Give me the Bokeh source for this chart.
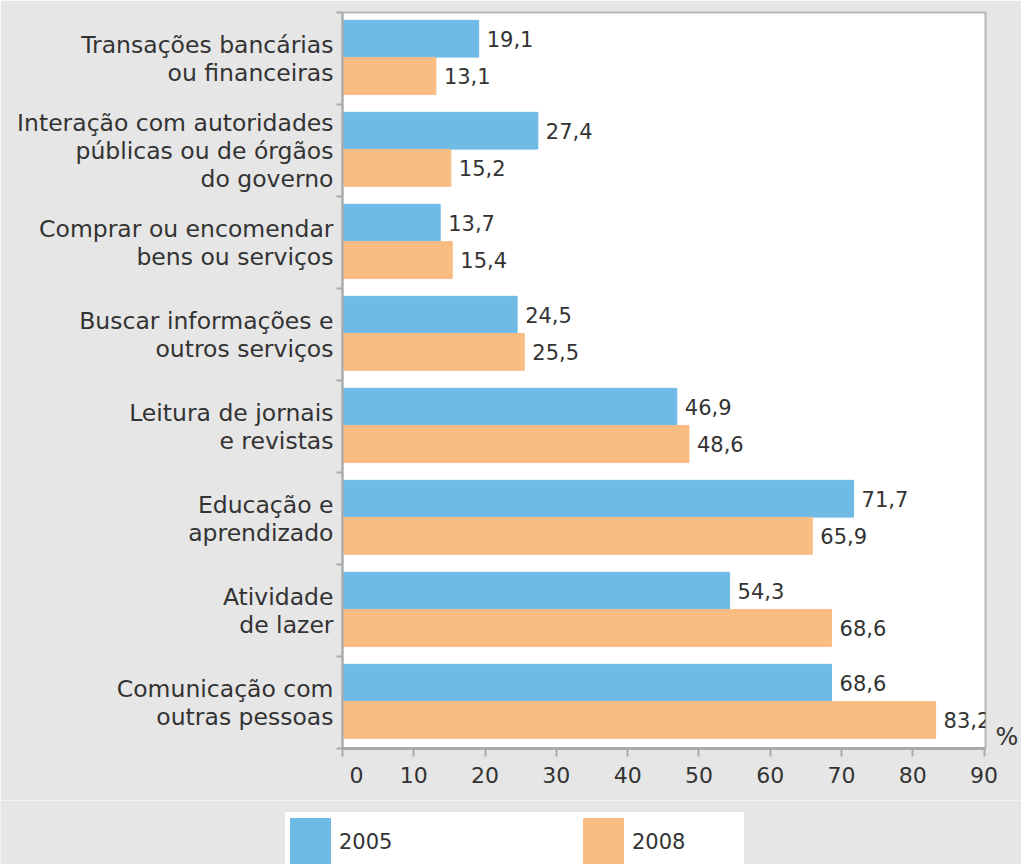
from bokeh.plotting import figure
from bokeh.layouts import column
from bokeh.models import (Range1d, FixedTicker, LabelSet, Legend, LinearAxis,
                          LegendItem, ColumnDataSource)
from bokeh.core.properties import value
from bokeh.embed import file_html
from bokeh.resources import INLINE

categories = [
    "Transações bancárias\nou financeiras",
    "Interação com autoridades\npúblicas ou de órgãos\ndo governo",
    "Comprar ou encomendar\nbens ou serviços",
    "Buscar informações e\noutros serviços",
    "Leitura de jornais\ne revistas",
    "Educação e\naprendizado",
    "Atividade\nde lazer",
    "Comunicação com\noutras pessoas",
]
values_2005 = [19.1, 27.4, 13.7, 24.5, 46.9, 71.7, 54.3, 68.6]
values_2008 = [13.1, 15.2, 15.4, 25.5, 48.6, 65.9, 68.6, 83.2]
series_names = ["2005", "2008"]
x_ticks = [0, 10, 20, 30, 40, 50, 60, 70, 80, 90]
unit_label = "%"

BLUE = "#70bbe6"
ORANGE = "#f9bc83"
TEXT = "#333333"
FONT = "DejaVu Sans"
AXIS = "#aaaaaa"
BG = "#e6e6e6"

n = len(categories)
centers = [n - i - 0.5 for i in range(n)]
bounds = list(range(n + 1))

def fmt(v):
    return f"{v:.1f}".replace(".", ",")

src05 = ColumnDataSource(dict(y=[c + 0.215 for c in centers], v=values_2005,
                              t=[fmt(v) for v in values_2005]))
src08 = ColumnDataSource(dict(y=[c - 0.19 for c in centers], v=values_2008,
                              t=[fmt(v) for v in values_2008]))

p = figure(width=1021, height=800, x_range=Range1d(0, 90.2), y_range=Range1d(0, n),
           output_backend="svg", toolbar_location=None, frame_align=False,
           min_border_left=342, min_border_right=34, min_border_top=12,
           min_border_bottom=52, background_fill_color="white",
           border_fill_color=BG, outline_line_color="#b8b8b8",
           outline_line_width=2)
p.grid.visible = False

p.hbar(y="y", right="v", left=0, height=0.4, source=src05,
       fill_color=BLUE, line_color=BLUE)
p.hbar(y="y", right="v", left=0, height=0.4, source=src08,
       fill_color=ORANGE, line_color=ORANGE)

for s in (src05, src08):
    p.add_layout(LabelSet(x="v", y="y", text="t", source=s, x_offset=8,
                          text_baseline="middle", text_font=value(FONT),
                          text_font_size="21px", text_color=TEXT))

# y axis
ya = p.yaxis[0]
ya.ticker = FixedTicker(ticks=centers, minor_ticks=bounds)
ya.major_label_overrides = {c: lab for c, lab in zip(centers, categories)}
ya.major_tick_out = 0
ya.major_tick_in = 0
ya.minor_tick_out = 6
ya.minor_tick_in = 0
ya.minor_tick_line_color = AXIS
ya.minor_tick_line_width = 2
ya.axis_line_color = AXIS
ya.axis_line_width = 2
ya.major_label_standoff = 3
ya.major_label_text_font = FONT
ya.major_label_text_font_size = "23.5px"
ya.major_label_text_line_height = 1.0
ya.major_label_text_color = TEXT

# x axis
xa = p.xaxis[0]
xa.ticker = FixedTicker(ticks=x_ticks, minor_ticks=[])
xa.major_label_overrides = {0: "\u00a0\u00a0\u00a0\u00a00"}
xa.major_tick_out = 8
xa.major_tick_in = 0
xa.major_tick_line_color = AXIS
xa.major_tick_line_width = 2
xa.axis_line_color = AXIS
xa.axis_line_width = 3
xa.major_label_standoff = 6
xa.major_label_text_font = FONT
xa.major_label_text_font_size = "22px"
xa.major_label_text_color = TEXT

# unit label on the right
ra = LinearAxis(ticker=FixedTicker(ticks=[0.12], minor_ticks=[]),
                major_label_overrides={0.12: unit_label},
                axis_line_color=None, major_tick_line_color=None,
                major_tick_out=0, major_tick_in=0, major_label_standoff=10,
                major_label_text_font=FONT, major_label_text_font_size="24px",
                major_label_text_color=TEXT)
p.add_layout(ra, "right")

# legend strip (the proxy bars sit outside its visible range)
lg = figure(width=1021, height=64, x_range=Range1d(0, 1), y_range=Range1d(100, 101),
            output_backend="svg", toolbar_location=None, frame_align=False,
            x_axis_location=None, y_axis_location=None, min_border=0,
            background_fill_color=BG, border_fill_color=BG,
            outline_line_color=None)
lg.grid.visible = False
k1 = lg.hbar(y="y", right="v", left=0, height=0.4, source=src05,
             fill_color=BLUE, line_color=BLUE)
k2 = lg.hbar(y="y", right="v", left=0, height=0.4, source=src08,
             fill_color=ORANGE, line_color=ORANGE)
legend = Legend(items=[LegendItem(label=series_names[0], renderers=[k1]),
                       LegendItem(label=series_names[1], renderers=[k2])],
                orientation="horizontal", location=(285, -8),
                glyph_width=50, glyph_height=60, label_standoff=4,
                label_width=112, spacing=127, padding=0, margin=0,
                border_line_color=None, background_fill_color="white",
                background_fill_alpha=1.0, label_text_font=FONT,
                label_text_font_size="21px", label_text_color=TEXT)
lg.add_layout(legend, "center")

layout = column(p, lg, spacing=0)
open("out.html", "w").write(file_html(layout, INLINE))
